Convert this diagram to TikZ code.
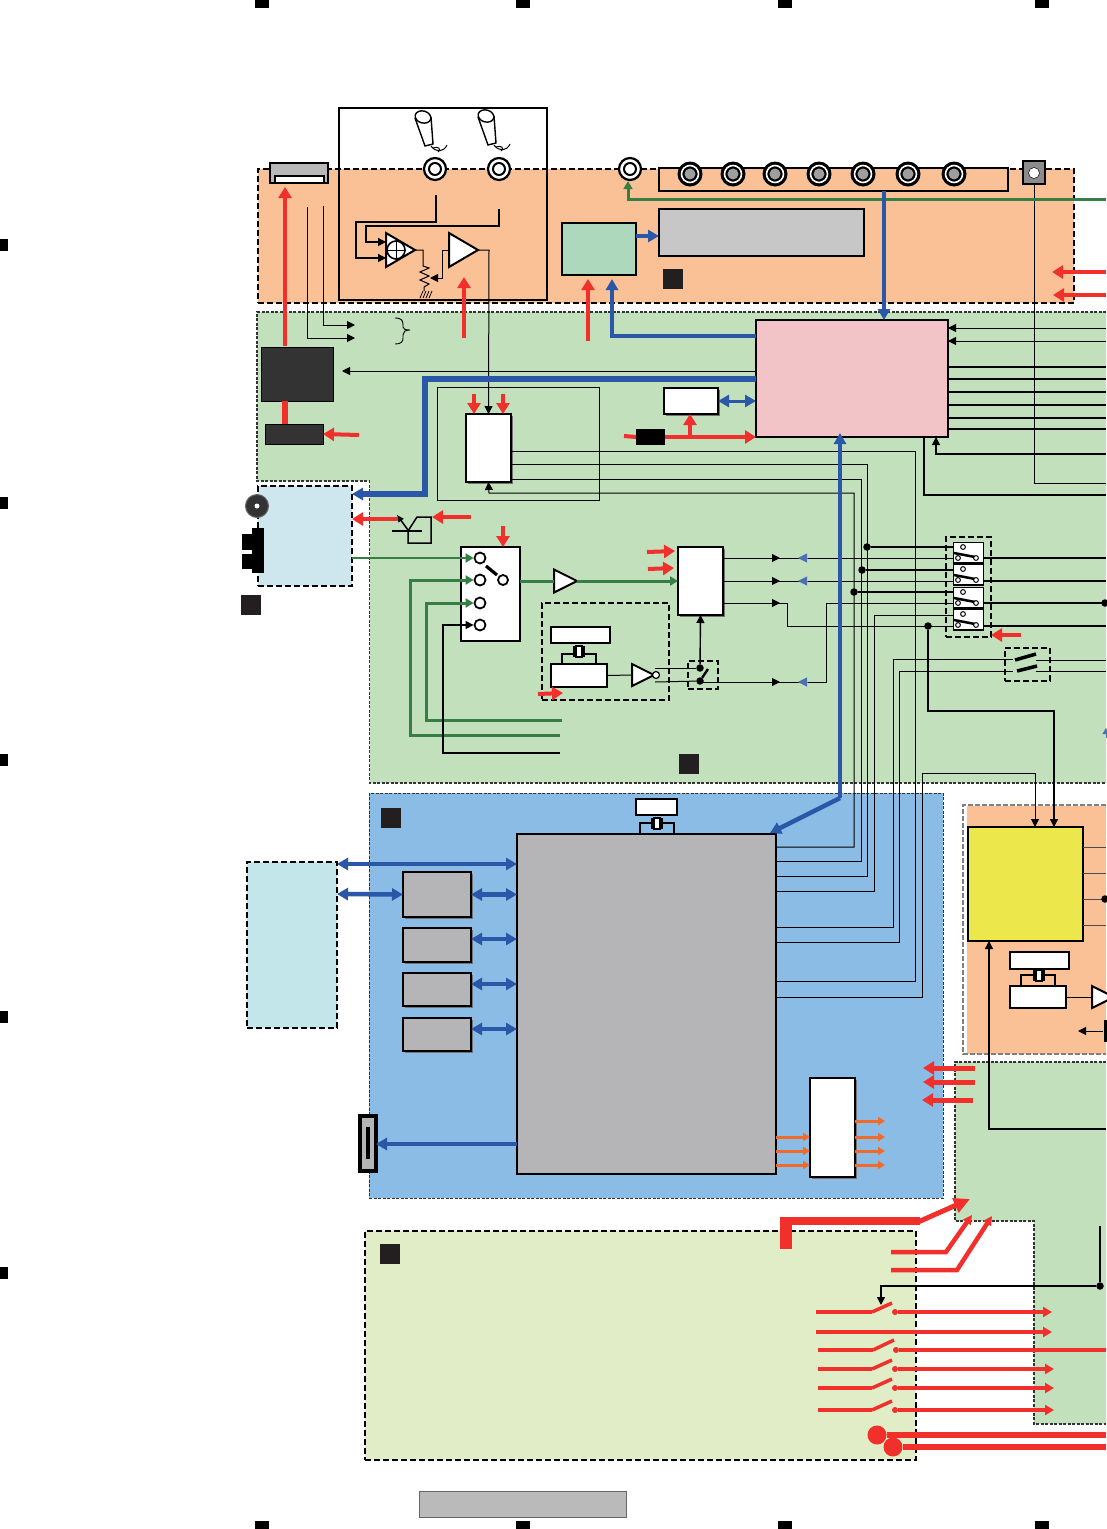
\documentclass[tikz,border=0pt]{standalone}
\usepackage{tikz}
\usepackage{xcolor}
\usetikzlibrary{arrows.meta,shadows,shapes.geometric}
\definecolor{orangep}{HTML}{FAC196}
\definecolor{greenp}{HTML}{C3E0BD}
\definecolor{bluep}{HTML}{8ABCE6}
\definecolor{limep}{HTML}{E1EDC7}
\definecolor{skyp}{HTML}{CEE6EE}
\definecolor{cyanp}{HTML}{C2E6EA}
\definecolor{redw}{HTML}{F1302C}
\definecolor{bluew}{HTML}{2A57A8}
\definecolor{greenw}{HTML}{357F45}
\definecolor{orangew}{HTML}{F26A2A}
\definecolor{darkb}{HTML}{333333}
\definecolor{markb}{HTML}{231F20}
\definecolor{chip}{HTML}{B5B5B7}
\tikzset{
  sz/.style 2 args={minimum width=#1pt,minimum height=#2pt},
  bx/.style={rectangle,draw=black,fill=white,line width=2.2pt,inner sep=0pt,outer sep=0pt},
  shbx/.style={bx,drop shadow={shadow xshift=2pt,shadow yshift=-2pt,fill=black!55,opacity=1}},
  panel/.style={rectangle,draw=black,line width=2.6pt,dash pattern=on 6pt off 3pt,inner sep=0pt,outer sep=0pt},
  thinpanel/.style={draw=black!80,line width=1.1pt,dash pattern=on 3pt off 1.5pt},
  marker/.style={rectangle,fill=markb,inner sep=0pt,outer sep=0pt,minimum size=20pt},
  dotn/.style={circle,fill=black,inner sep=0pt,outer sep=0pt,minimum size=7.5pt},
  amp/.style 2 args={isosceles triangle,isosceles triangle stretches,draw=black,fill=white,line width=2pt,
    inner sep=0pt,outer sep=0pt,anchor=lower side,minimum height=#1pt,minimum width=#2pt},
  wire/.style={draw=black,line width=1pt},
  wirear/.style={wire,-{Triangle[length=8pt,width=8pt]}},
  redbus/.style={draw=redw,line width=4pt,-{Triangle[length=11pt,width=13pt]}},
  redline/.style={draw=redw,line width=3.5pt},
  redar/.style={draw=redw,line width=3.5pt,-{Triangle[length=9pt,width=10pt]}},
  bluebus/.style={draw=bluew,line width=4.5pt,-{Triangle[length=11pt,width=12pt]}},
  bluedbl/.style={draw=bluew,line width=4.5pt,{Triangle[length=11pt,width=12pt]}-{Triangle[length=11pt,width=12pt]}},
  greenbus/.style={draw=greenw,line width=3pt},
  greenar/.style={greenbus,-{Triangle[length=8pt,width=9pt]}},
  orangear/.style={draw=orangew,line width=3pt,-{Triangle[length=7pt,width=8pt]}}
}
\begin{document}
\begin{tikzpicture}[x=1pt,y=-1pt]
    \useasboundingbox (0,0) rectangle (1106,1529);
    \foreach \x in {262,523,785,1042}
{
    \node[rectangle,fill=black,inner sep=0pt,minimum width=14pt,minimum height=8pt] (top\x) at (\x,4) {};
    \node[rectangle,fill=black,inner sep=0pt,minimum width=14pt,minimum height=8pt] (bot\x) at (\x,1525) {};
}
    \foreach \y in {245,503,760,1017,1273}
{
    \node[rectangle,fill=black,inner sep=0pt,minimum width=8pt,minimum height=12pt] (side\y) at (4,\y) {};
}
    \node[rectangle,draw=black!60,line width=0.6pt,fill=black!27,inner sep=0pt,sz={207}{26}] (title) at (522.5,1504) {};

    % panels
    \fill[greenp] (257,312)--(1106,312)--(1106,783)--(369.5,783)--(369.5,481)--(257,481)--cycle;
    \draw[thinpanel] (1106,312)--(257,312)--(257,481)--(369.5,481)--(369.5,783)--(1106,783);
    \fill[orangep] (967,806) rectangle (1106,1054);
    \draw[draw=black!50,line width=2.4pt,dash pattern=on 5pt off 2pt] (1106,805)--(963,805)--(963,1054)--(1106,1054);
    \fill[greenp] (955,1062)--(1106,1062)--(1106,1424)--(1034,1424)--(1034,1221)--(955,1221)--cycle;
    \draw[thinpanel] (1106,1062)--(955,1062)--(955,1221)--(1034,1221)--(1034,1424)--(1106,1424);
    \node[panel,fill=orangep,sz={816}{134}] (rear) at (666,236) {};
    \node[panel,fill=skyp,sz={94}{100}] (disc) at (305,536) {};
    \node[panel,fill=cyanp,sz={90}{166}] (cardp) at (292,945) {};
    \node[rectangle,thinpanel,fill=bluep,inner sep=0pt,sz={574}{405}] (main) at (656.2,995.7) {};
    \node[panel,fill=limep,line width=2pt,sz={551}{229}] (power) at (640.5,1345.5) {};
    \node[rectangle,draw=black,line width=1.8pt,inner sep=0pt,sz={208}{192}] (micbox) at (443,204) {};

    \node[marker] (M1) at (673,279) {};
    \node[marker] (M2) at (251,605) {};
    \node[marker] (M3) at (689,764) {};
    \node[marker] (M4) at (391,818) {};
    \node[marker] (M5) at (390,1254) {};

    % blocks
    \node[bx,fill=black!28,sz={58}{20},line width=1.8pt] (cn1) at (299,173) {};
    \node[bx,line width=1.8pt,sz={49}{7}] (cn1s) at (299.5,179.5) {};
    \node[bx,fill=orangep,sz={349}{23}] (strip) at (833.5,179.5) {};
    \node[bx,fill=black!45,sz={22}{23}] (vid) at (1034,172.5) {};
    \node[bx,fill={rgb,255:red,173;green,216;blue,187},sz={74}{52}] (vfd) at (599,249) {};
    \node[bx,fill=black!22,sz={205}{47}] (disp) at (761.5,232.5) {};
    \node[bx,fill={rgb,255:red,242;green,195;blue,199},sz={192}{117}] (cpu) at (852,378.5) {};
    \node[bx,fill=darkb,sz={72}{54},line width=1pt] (drv1) at (297,374) {};
    \node[bx,fill=darkb,sz={58}{20},line width=1pt] (drv2) at (294,434) {};
    \node[rectangle,draw=black,line width=1pt,inner sep=0pt,sz={162}{113}] (adcp) at (518,443.5) {};
    \node[shbx,sz={45}{68}] (adc) at (488.5,448) {};
    \node[shbx,sz={54}{26}] (rom) at (691,401) {};
    \node[rectangle,fill=black,inner sep=0pt,outer sep=0pt,sz={29}{16}] (reg) at (650.5,437) {};
    \node[bx,sz={59}{94}] (sel) at (490.5,594) {};
    \node[shbx,sz={45}{68}] (dac) at (700.5,581) {};
    \node[panel,line width=1.8pt,sz={127}{97}] (osc) at (605.5,651.5) {};
    \node[bx,sz={59}{16}] (osc1) at (580.5,635) {};
    \node[bx,sz={56}{23}] (osc2) at (579,675.5) {};
    \node[panel,line width=1.8pt,sz={30}{28}] (clk) at (703,675) {};
    \node[panel,line width=1.8pt,sz={45}{100}] (relay) at (968.5,587) {};
    \node[panel,line width=1.8pt,sz={45}{33}] (mute) at (1027.5,664.5) {};
    \node[bx,fill=chip,sz={259}{340}] (ic) at (646.5,1004) {};
    \node[bx,sz={41}{16},line width=1.8pt] (xt) at (656.5,807) {};
    \node[shbx,fill=chip,sz={68}{45}] (m1) at (437,894.5) {};
    \node[shbx,fill=chip,sz={68}{34}] (m2) at (437,945) {};
    \node[shbx,fill=chip,sz={68}{33}] (m3) at (437,989.5) {};
    \node[shbx,fill=chip,sz={68}{33}] (m4) at (437,1034.5) {};
    \node[bx,fill=chip,line width=3.4pt,sz={16}{55}] (card) at (368,1143.5) {};
    \node[rectangle,fill=black,inner sep=0pt,sz={4}{32}] (cards) at (368,1143) {};
    \node[shbx,sz={45}{99}] (drv) at (832.5,1127.5) {};
    \node[bx,fill={rgb,255:red,236;green,232;blue,76},sz={115}{114}] (dsp) at (1025.5,884) {};
    \node[bx,sz={59}{17},line width=1.8pt] (y1) at (1039.5,960.5) {};
    \node[bx,sz={56}{22},line width=1.8pt] (y2) at (1038,997) {};

    \node[rectangle,fill=black,inner sep=0pt,sz={12}{45}] (usb) at (258,550.5) {};
    \node[rectangle,fill=black,inner sep=0pt,sz={10}{16}] (usb1) at (247,542) {};
    \node[rectangle,fill=black,inner sep=0pt,sz={10}{15}] (usb2) at (247,561.5) {};
    \node[circle,fill=darkb,draw=black!60,line width=1pt,inner sep=0pt,minimum size=23pt] (dsc) at (257,506) {};
    \node[circle,fill=white,inner sep=0pt,minimum size=5pt] (dsc0) at (257,506) {};

    % mics
    \foreach \x/\y/\n in {0/0/1,63/-1/2}
{
    \begin{scope}[shift={(\x,\y)}]
    \draw[line width=1.4pt,fill=white] (415,118)--(425,146)--(433,144)--(431,117);
    \draw[line width=1.4pt,fill=white,rotate around={-15:(423,117)}] (423,117) ellipse (8pt and 6pt);
    \draw[line width=1pt] (431,146)..controls (436,153) and (444,152)..(447,145);
    \draw[line width=1pt] (433,148)..controls (438,146) and (442,149)..(438,152);
    \end{scope}
}
    \foreach \x/\n in {435/1,499/2,630/3}
{
    \node[circle,draw=black,fill=white,line width=2.2pt,inner sep=0pt,minimum size=22pt] (MJ\n) at (\x,169) {};
    \node[circle,draw=black,fill=white,line width=2pt,inner sep=0pt,minimum size=12pt] (MI\n) at (\x,169) {};
}
    \foreach \x/\n in {690/1,733/2,775/3,819/4,863/5,908/6,954/7}
{
    \node[circle,fill=black,inner sep=0pt,minimum size=25pt] (AV\n) at (\x,174) {};
    \node[circle,draw=white,fill=black,line width=1.6pt,inner sep=0pt,minimum size=17pt] (AW\n) at (\x,174) {};
    \node[circle,fill=black!38,inner sep=0pt,minimum size=11pt] (AX\n) at (\x,174) {};
}
    \node[circle,fill=white,draw=black,line width=0.5pt,inner sep=0pt,minimum size=11pt] (vidc) at (1034,173) {};

    % mic amp
    \node[amp={29}{34}] (mix) at (386,250) {};
    \node[circle,draw=black,fill=white,line width=1.6pt,inner sep=0pt,minimum size=18pt] (mixc) at (396,250) {};
    \draw[line width=1pt] (mixc.west)--(mixc.east) (mixc.north)--(mixc.south);
    \node[amp={29}{34}] (amp1) at (449,250) {};
    \draw[wirear,line width=1.5pt] (436,195)--(436,222)--(356,222)--(356,258)--(386,258);
    \draw[wirear,line width=1.5pt] (499,209)--(499,226)--(366,226)--(366,242)--(386,242);
    \draw[wire] (mix.apex)--(423,250)--(423,266)--(429,268)--(420,272)--(429,276)--(420,280)--(429,284)--(424,287)--(424,291);
    \draw[wirear] (amp1.west)--(442,250)--(442,278)--(430,278);
    \foreach \x in {420,423,426,429}
{
    \draw[line width=0.8pt] (\x,298)--(\x+3,291);
}
    \draw[wirear] (amp1.apex)--(489,250)--(adc.north);

    % thin wires
    \draw[wirear] (307,207)--(307,338)--(355,338);
    \draw[wirear] (323,206)--(323,325)--(355,325);
    \draw[line width=0.9pt] (395,318)..controls (402,318) and (403,321)..(403,325)--(403,327)..controls (403,329) and (405,330)..(410,330)..controls (405,330) and (403,332)..(403,335)--(403,338)..controls (403,342) and (401,344)..(395,344);
    \draw[wirear] (cpu.west |- 0,371)--(342,371);
    \draw[wire] (vid.south)--(1034,483)--(1106,483);
    \foreach \y in {328,341}
{
    \draw[wirear] (1106,\y)--(cpu.east |- 0,\y);
}
    \foreach \y in {367,379,392,405,418,429}
{
    \draw[wire,line width=1.3pt] (cpu.east |- 0,\y)--(1106,\y);
}
    \draw[wirear,line width=1.4pt] (1106,454)--(936,454)--(936,437);
    \draw[wire,line width=1.4pt] (924,437)--(924,495)--(1106,495);

    % wires between main chip and front
    \draw[wirear] (ic.east |- 0,847)--(854,847)--(854,493)--(489,493)--(adc.south);
    \draw[wire] (ic.east |- 0,861)--(861,861)--(861,479)--(adc.east |- 0,479);
    \draw[wire] (ic.east |- 0,876)--(867,876)--(867,464)--(adc.east |- 0,464);
    \draw[wire] (ic.east |- 0,981)--(915,981)--(915,451)--(adc.east |- 0,451);
    \draw[wire] (ic.east |- 0,891)--(874,891)--(874,615)--(959,615);
    \draw[wire] (ic.east |- 0,927)--(893,927)--(893,659)--(1013,659);
    \draw[wire] (ic.east |- 0,942)--(899,942)--(899,671)--(1013,671);
    \draw[wirear] (ic.east |- 0,997)--(922,997)--(922,773)--(1035,773)--(1035,827);
    \node[dotn] (D1) at (867,547) {};
    \node[dotn] (D2) at (862,570) {};
    \node[dotn] (D3) at (854,592) {};
    \node[dotn] (D4) at (928,626) {};
    \draw[wire,line width=1.5pt] (D1)--(959,547);
    \draw[wire,line width=1.5pt] (D2)--(959,570);
    \draw[wire,line width=1.5pt] (D3)--(959,592);
    \draw[wirear,line width=1.3pt] (D4)--(928,711)--(1054,711)--(1054,827);

    % dac outputs
    \draw[wire] (dac.east |- 0,558)--(953,558);
    \draw[wire] (dac.east |- 0,581)--(953,581);
    \draw[wire] (dac.east |- 0,603)--(787,603)--(787,626)--(953,626);
    \draw[wire] (700,682)--(826,682)--(826,603)--(953,603);
    \foreach \y/\n in {558/1,581/2,626/3}
{
    \draw[wire,line width=1.5pt] (983,\y)--(1106,\y);
}
    \draw[wire,line width=1.5pt] (983,603)--(1106,603);
    \node[dotn] (D5) at (1105,603) {};
    \foreach \x/\y in {772/558,772/581,772/603,772/682}
{
    \draw[wire,-{Triangle[length=8pt,width=8pt]}] (\x,\y)--(\x+8,\y);
}
    \foreach \x/\y in {807/558,807/581,807/682}
{
    \draw[draw=bluew!85,line width=1pt,-{Triangle[length=9pt,width=9pt]}] (\x,\y)--(\x-9,\y);
}
    \draw[draw=bluew!85,line width=1pt,-{Triangle[length=6pt,width=7pt]}] (1106,738)--(1106,728);

    % relays
    \foreach \y/\n in {542/1,564/2,587/3,609/4}
{
    \node[bx,line width=1pt,sz={30}{21},anchor=north west] (K\n) at (953,\y) {};
    \draw[black,line width=2pt] (K\n.south west)--(K\n.south east);
    \draw[black,line width=2.5pt] (954,\y+11)--(975,\y+15);
    \foreach \xx/\yy in {963/5,958/16,976/16}
{
    \draw[black,fill=white,line width=1pt] (\xx,\y+\yy) circle (2.4pt);
}
}
    \draw[wire] (1036,660)--(1106,660);
    \draw[wire] (1036,671)--(1106,671);
    \draw[black,line width=3.5pt] (1015,660)--(1036,654);
    \draw[black,line width=3.5pt] (1017,671)--(1037,666);

    % selector
    \foreach \y/\n in {558/1,580/2,603/3,625/4}
{
    \node[circle,draw=black,fill=white,line width=1.8pt,inner sep=0pt,minimum size=11pt] (S\n) at (480,\y) {};
}
    \node[circle,draw=black,fill=white,line width=1.8pt,inner sep=0pt,minimum size=10pt] (S0) at (503,580) {};
    \draw[black,line width=3.2pt] (486,566)--(497,575);
    \draw[greenar,line width=2.2pt] (disc.east |- 0,558)--(S1.west);
    \draw[greenar] (560,735)--(410,735)--(410,580)--(S2.west);
    \draw[greenar] (562,720)--(426,720)--(426,603)--(S3.west);
    \draw[wirear,line width=1.4pt] (560,753)--(443,753)--(443,625)--(S4.west);
    \node[amp={23}{23}] (buf) at (554,581) {};
    \draw[greenbus] (sel.east |- buf)--(buf.west);
    \draw[greenar] (buf.apex)--(dac.west |- buf);

    % oscillator
    \draw[black,line width=1.5pt] (574,654)--(562,654)--(562,664);
    \draw[black,line width=1.5pt] (584,654)--(596,654)--(596,664);
    \draw[black,line width=1.5pt] (574,646)--(574,657) (584,646)--(584,657);
    \draw[black,line width=1.2pt,fill=white] (576,646) rectangle (582,657);
    \node[amp={22}{22}] (inv) at (632,675) {};
    \node[circle,draw=black,fill=white,line width=1.2pt,inner sep=0pt,minimum size=7pt] (invc) at (656,675) {};
    \draw[wire] (osc2.east)--(inv.west);
    \node[dotn] (C1) at (700,668) {};
    \node[dotn] (C2) at (700,681) {};
    \draw[wire] (655,668)--(C1);
    \draw[wire] (655,682)--(C2);
    \draw[black,line width=2.4pt] (C2)--(708,669);
    \draw[wirear,line width=1.4pt] (C1)--(dac.south);

    % second crystal
    \draw[black,line width=1.5pt] (651,823)--(640,823)--(640,834);
    \draw[black,line width=1.5pt] (663,823)--(674,823)--(674,834);
    \draw[black,line width=1.5pt] (652,818)--(652,829) (662,818)--(662,829);
    \draw[black,line width=1.2pt,fill=white] (654,818) rectangle (660,829);

    % third crystal
    \draw[black,line width=1.5pt] (1033,975)--(1021,975)--(1021,986);
    \draw[black,line width=1.5pt] (1045,975)--(1055,975)--(1055,986);
    \draw[black,line width=1.5pt] (1034,970)--(1034,981) (1044,970)--(1044,981);
    \draw[black,line width=1.2pt,fill=white] (1036,970) rectangle (1042,981);
    \node[amp={22}{22}] (inv2) at (1092,997) {};
    \draw[wire] (y2.east)--(inv2.west);
    \node[rectangle,fill=black,inner sep=0pt,sz={3}{22}] (yb) at (1105,1031) {};
    \draw[wirear] (yb)--(1078,1031);

    % dsp
    \foreach \y in {847,873,899,925}
{
    \draw[wire,draw=black!70] (dsp.east |- 0,\y)--(1106,\y);
}
    \node[dotn] (D6) at (1105,899) {};
    \draw[wirear,line width=1.4pt] (1106,1129)--(989,1129)--(989,941);

    % transistor
    \draw[wire,line width=1.5pt] (392,531)--(422,531);
    \draw[black,line width=1.5pt] (408,531)--(417,517)--(431,517)--(431,543)--(408,543)--(408,531);
    \draw[black,line width=1.5pt,-{Triangle[length=7pt,width=6pt]}] (408,530)--(397,515);

    % red
    \draw[redbus,line width=4.5pt] (285,346)--(285,187);
    \draw[redline,line width=6pt] (drv1.south -| 285,0)--(drv2.north -| 285,0);
    \draw[redbus] (359,435)--(drv2.east);
    \draw[redbus] (464,338)--(464,277);
    \draw[redbus] (588,341)--(588,279);
    \draw[redbus] (1106,272)--(1052,272);
    \draw[redbus] (1106,295)--(1053,295);
    \draw[redbus] (474,394)--(474,414);
    \draw[redbus] (503,394)--(503,414);
    \draw[redbus] (reg.east)--(cpu.west |- reg);
    \draw[redline,line width=4pt] (624,436)--(reg.west);
    \draw[redbus] (690,436)--(rom.south -| 690,0);
    \draw[redbus] (398,519)--(disc.east |- 0,519);
    \draw[redbus] (471,517)--(432,517);
    \draw[redbus] (503,526)--(503,547);
    \draw[redbus] (647,552)--(675,551);
    \draw[redbus] (648,569)--(674,568);
    \draw[redbus] (538,694)--(563,693);
    \draw[redbus] (1021,635)--(991,635);
    \draw[redbus,line width=5pt] (975,1068)--(923,1068);
    \draw[redbus,line width=5pt] (975,1082)--(923,1082);
    \draw[redbus,line width=5pt] (973,1100)--(922,1100);

    \draw[redw,line width=12pt] (786,1249)--(786,1221);
    \draw[redw,line width=8pt] (780,1221)--(920,1221);
    \draw[draw=redw,line width=5pt,-{Triangle[length=16pt,width=15pt]}] (918,1222)--(970,1199);
    \draw[draw=redw,line width=4.5pt,-{Triangle[length=9pt,width=9pt]}] (891,1252)--(946,1252)--(972,1215);
    \draw[draw=redw,line width=4.5pt,-{Triangle[length=9pt,width=9pt]}] (891,1270)--(957,1270)--(992,1216);

    \node[dotn] (D7) at (1100,1286) {};
    \draw[wire,line width=1.8pt] (1100,1226)--(D7);
    \draw[wirear,line width=1.4pt] (D7)--(881,1286)--(881,1305);
    \draw[redar] (816,1332)--(1052,1332);
    \foreach \xa/\y/\xb/\n in {816/1312/1052/1,818/1369/1054/2,818/1388/1054/3,818/1410/1054/4}
{
    \draw[redline] (\xa,\y)--(872,\y);
    \draw[redline] (872,\y)--(892,\y-9);
    \node[circle,fill=redw,inner sep=0pt,minimum size=6pt] (R\n) at (895,\y) {};
    \draw[redar] (R\n)--(\xb,\y);
}
    \draw[redline] (818,1350)--(873,1350);
    \draw[redline] (873,1350)--(894,1340);
    \node[circle,fill=redw,inner sep=0pt,minimum size=6pt] (R5) at (896,1350) {};
    \draw[redline] (R5)--(1106,1350);
    \node[circle,fill=redw,inner sep=0pt,minimum size=19pt] (P1) at (877,1435) {};
    \node[circle,fill=redw,inner sep=0pt,minimum size=19pt] (P2) at (893,1447) {};
    \draw[redw,line width=6.5pt] (P1)--(1106,1435);
    \draw[redw,line width=6.5pt] (P2)--(1106,1447);

    % orange
    \foreach \y in {1137,1151,1165}
{
    \draw[orangear] (ic.east |- 0,\y)--(drv.west |- 0,\y);
}
    \foreach \y in {1121,1137,1151,1165}
{
    \draw[orangear] (drv.east |- 0,\y)--(885,\y);
}

    % blue
    \draw[greenar] (1106,199)--(628,199)--(MJ3.south -| 628,0);
    \draw[bluebus] (vfd.east |- 0,236)--(disp.west |- 0,236);
    \draw[bluebus] (884,191)--(cpu.north -| 884,0);
    \draw[bluebus] (cpu.west |- 0,336)--(612,336)--(612,279);
    \draw[bluebus,line width=5.5pt] (cpu.west |- 0,379)--(425,379)--(425,494)--(disc.east |- 0,494);
    \draw[bluedbl,line width=3pt] (rom.east)--(cpu.west |- rom);
    \draw[bluebus] (840,798)--(840,433);
    \draw[bluebus] (840,798)--(770,833);
    \draw[bluedbl] (cardp.east |- 0,864)--(ic.west |- 0,864);
    \draw[bluedbl] (cardp.east |- 0,894)--(m1.west);
    \draw[bluedbl] (m1.east)--(ic.west |- m1);
    \draw[bluedbl] (m2.east |- 0,939)--(ic.west |- 0,939);
    \draw[bluedbl] (m3.east |- 0,984)--(ic.west |- 0,984);
    \draw[bluedbl] (m4.east |- 0,1029)--(ic.west |- 0,1029);
    \draw[bluebus,line width=3.5pt] (ic.west |- 0,1144)--(card.east |- 0,1144);
\end{tikzpicture}
\end{document}
